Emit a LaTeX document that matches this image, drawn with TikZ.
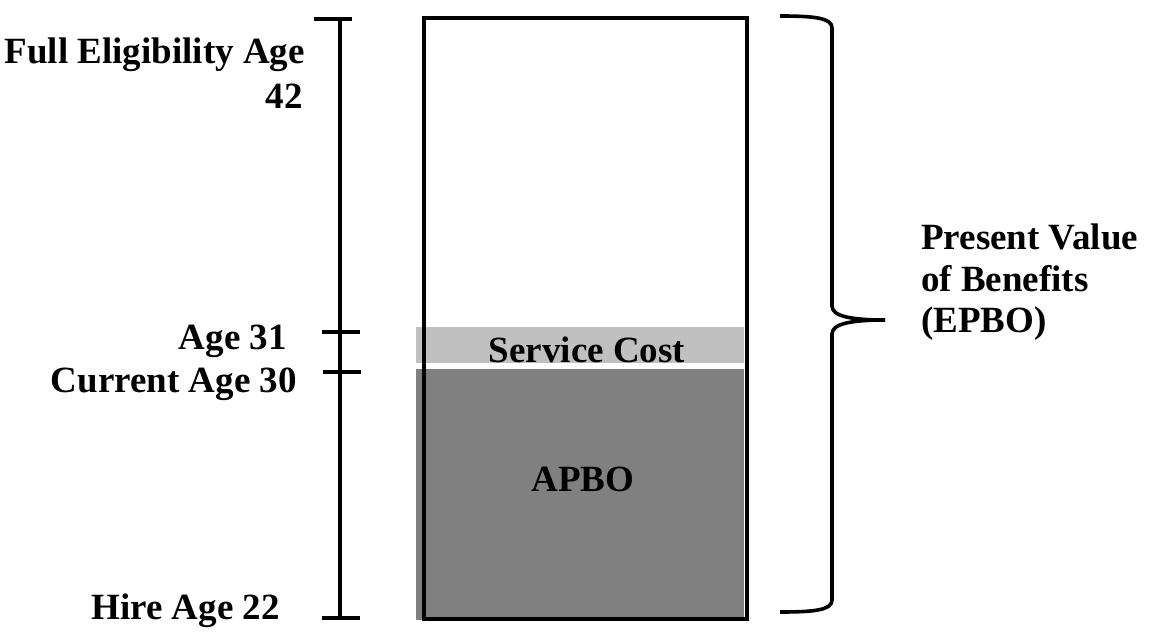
\documentclass[tikz,border=0pt]{standalone}
\usepackage{fontspec}
\setmainfont{Liberation Serif}
\tikzset{
  lbl/.style={font=\fontsize{37}{42}\selectfont\bfseries, inner sep=0pt},
  thick line/.style={line width=3.6pt},
}
\begin{document}
\begin{tikzpicture}[x=1pt,y=-1pt]
\useasboundingbox (0,0) rectangle (1149,640);
% fills
\fill[fill={rgb,255:red,192;green,192;blue,192}] (416,327) rectangle (744,363);
\fill[fill={rgb,255:red,128;green,128;blue,128}] (416,369) rectangle (744,620);
% outer box
\draw[thick line] (424,18) rectangle (747,619);
% scale line
\coordinate (top) at (340,19);
\coordinate (bot) at (340,618);
\draw[thick line] (top) -- (bot);
\coordinate (t1l) at (314,19); \coordinate (t1r) at (352,19);
\coordinate (t2l) at (322,332); \coordinate (t2r) at (360,332);
\coordinate (t3l) at (323,372); \coordinate (t3r) at (361,372);
\coordinate (t4l) at (322,618); \coordinate (t4r) at (360,618);
\draw[thick line] (t1l) -- (t1r);
\draw[thick line] (t2l) -- (t2r);
\draw[thick line] (t3l) -- (t3r);
\draw[thick line] (t4l) -- (t4r);
% brace
\coordinate (btop) at (780,16);
\coordinate (btip) at (885,320);
\coordinate (bbot) at (780,612);
\draw[line width=3.6pt] (btop) .. controls (815,16) and (832,18) .. (832,28) -- (832,306) .. controls (832,316) and (850,320) .. (btip);
\draw[line width=3.6pt] (btip) .. controls (850,320) and (832,324) .. (832,334) -- (832,600) .. controls (832,610) and (815,612) .. (bbot);
% labels
\node[lbl, anchor=base east] (fea) at (305,63) {Full Eligibility Age};
\node[lbl, anchor=base east] (f42) at (303,108) {42};
\node[lbl, anchor=base east] (a31) at (287,349) {Age 31};
\node[lbl, anchor=base east] (ca30) at (297,392) {Current Age 30};
\node[lbl, anchor=base east] (ha22) at (280,619) {Hire Age 22};
\node[lbl, anchor=base] (sc) at (587,362) {Service Cost};
\node[lbl, anchor=base] (apbo) at (583,491) {APBO};
\node[lbl, anchor=base west] (pv1) at (921,249) {Present Value};
\node[lbl, anchor=base west] (pv2) at (921,291) {of Benefits};
\node[lbl, anchor=base west] (pv3) at (921,332) {(EPBO)};
\end{tikzpicture}
\end{document}
